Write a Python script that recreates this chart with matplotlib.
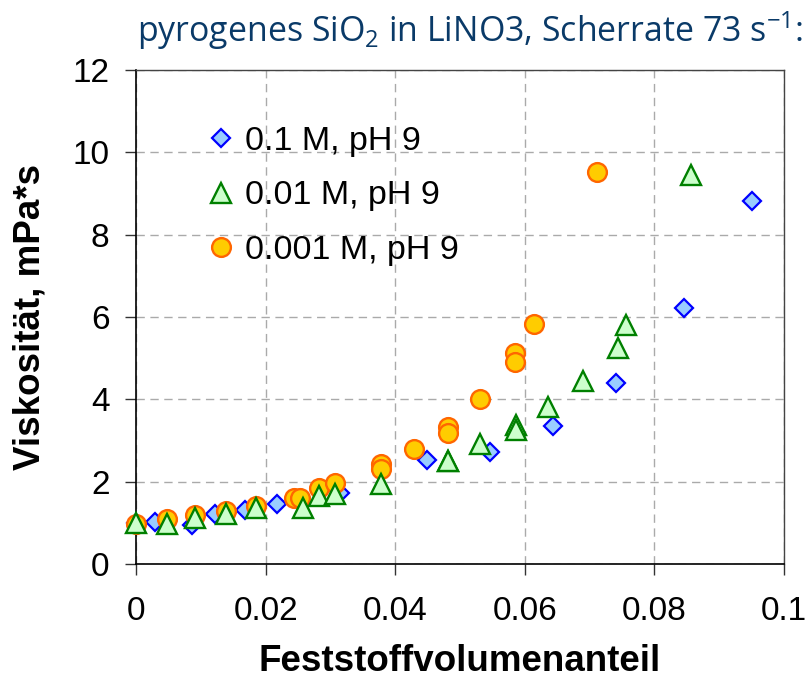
import matplotlib
matplotlib.use("Agg")
import matplotlib.pyplot as plt
from matplotlib.lines import Line2D

# Data
x_01 = [0.0, 0.0030, 0.0086, 0.0122, 0.0168, 0.0218, 0.0315, 0.0449, 0.0546, 0.0644, 0.0741, 0.0846, 0.0951]
y_01 = [1.00, 1.02, 0.95, 1.21, 1.31, 1.46, 1.72, 2.53, 2.72, 3.36, 4.39, 6.22, 8.82]

x_001 = [0.0, 0.0048, 0.0091, 0.0139, 0.0185, 0.0257, 0.0282, 0.0307, 0.0378, 0.0481, 0.0481,
         0.0531, 0.0586, 0.0586, 0.0636, 0.0690, 0.0744, 0.0756, 0.0856]
y_001 = [1.00, 0.97, 1.12, 1.22, 1.36, 1.37, 1.65, 1.70, 1.95, 2.50, 2.50,
         2.92, 3.38, 3.25, 3.81, 4.45, 5.25, 5.81, 9.45]

x_0001 = [0.0, 0.0048, 0.0091, 0.0139, 0.0185, 0.0244, 0.0253, 0.0282, 0.0307, 0.0378, 0.0378,
          0.0429, 0.0481, 0.0481, 0.0531, 0.0585, 0.0585, 0.0614, 0.0711]
y_0001 = [0.97, 1.09, 1.19, 1.28, 1.41, 1.60, 1.60, 1.85, 1.97, 2.42, 2.30,
          2.80, 3.32, 3.18, 4.00, 5.13, 4.90, 5.82, 9.52]

labels = ["0.1 M, pH 9", "0.01 M, pH 9", "0.001 M, pH 9"]
xticks = [0, 0.02, 0.04, 0.06, 0.08, 0.1]
xticklabels = ["0", "0.02", "0.04", "0.06", "0.08", "0.1"]
yticks = [0, 2, 4, 6, 8, 10, 12]

title = r"pyrogenes SiO$_\mathregular{2}$ in LiNO3, Scherrate 73 s$^\mathregular{-1}$:"

plt.rcParams['font.family'] = ['Liberation Sans', 'DejaVu Sans']

fig = plt.figure(figsize=(8.11, 6.77), dpi=100)
ax = fig.add_axes([136/811, 1-564/677, (784-136)/811, (564-70)/677])

st_d = dict(marker='D', ms=9.5, mfc='#99CCFF', mec='#0000FF', mew=1.6, ls='none')
st_t = dict(marker='^', ms=14.0, mfc='#CCFFCC', mec='#008000', mew=1.7, ls='none')
st_c = dict(marker='o', ms=13.5, mfc='#FFCC00', mec='#FF6600', mew=1.7, ls='none')

ax.plot(x_01, y_01, zorder=3, clip_on=False, **st_d)
ax.plot(x_0001, y_0001, zorder=4, clip_on=False, **st_c)
ax.plot(x_001, y_001, zorder=5, clip_on=False, **st_t)

ax.set_xlim(0, 0.1)
ax.set_ylim(0, 12)
ax.set_xticks(xticks)
ax.set_xticklabels(xticklabels)
ax.set_yticks(yticks)
ax.grid(True, color='#AAAAAA', ls=(0, (6, 4)), lw=1.0)
ax.set_axisbelow(True)
ax.tick_params(direction='out', length=8, width=1, labelsize=24, colors='#333333', labelcolor='black')
ax.tick_params(axis='x', pad=15)
ax.tick_params(axis='y', pad=11)
for s in ['left', 'bottom']:
    ax.spines[s].set_color('black')
    ax.spines[s].set_linewidth(1.2)
for s in ['top', 'right']:
    ax.spines[s].set_color('#444444')
    ax.spines[s].set_linewidth(1.0)

ax.set_xlabel("Feststoffvolumenanteil", fontsize=26.5, fontweight='bold', labelpad=12)
ax.set_ylabel("Viskosität, mPa*s", fontsize=26.5, fontweight='bold', labelpad=18)

handles = [Line2D([], [], **st_d), Line2D([], [], **st_t), Line2D([], [], **st_c)]
ax.legend(handles, labels, loc='upper left', bbox_to_anchor=(0.095, 0.915), frameon=False,
          fontsize=24.5, handlelength=0.6, handletextpad=0.4, labelspacing=0.7, borderaxespad=0)

fig.text(137/811, 1-42/677, title, fontsize=24.4, family='Open Sans', color='#0A3A68',
         ha='left', va='baseline')

fig.savefig("out.png", dpi=100)
